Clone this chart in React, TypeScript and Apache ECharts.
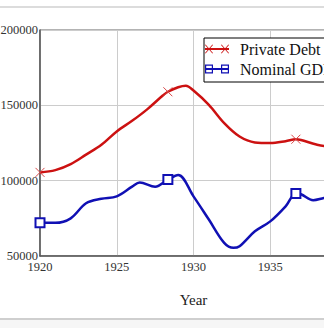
import React, { useEffect, useRef } from "react";
import * as echarts from "echarts";

const debtYears = [1920, 1921, 1922, 1923, 1924, 1925, 1926, 1927, 1928, 1928.33, 1929, 1929.5, 1930, 1931, 1932, 1933, 1934, 1935, 1936, 1936.67, 1937, 1938, 1939, 1940];
const debtValues = [105500, 107000, 111000, 117300, 123800, 132700, 139700, 147500, 156500, 159000, 162000, 163000, 159800, 150300, 138200, 129300, 125400, 125000, 126200, 127500, 127000, 124000, 122500, 123000];
const debtMarkers = [1920, 1928.33, 1936.67];

const gdpYears = [1920, 1921, 1922, 1923, 1924, 1925, 1926, 1926.5, 1927.5, 1928.33, 1929, 1930, 1931, 1932, 1932.6, 1933, 1934, 1935, 1936, 1936.67, 1937, 1937.8, 1938.5, 1939.5];
const gdpValues = [72000, 72000, 75000, 85000, 88000, 89600, 96000, 98800, 96000, 100700, 103800, 89600, 74200, 58700, 55400, 56500, 66400, 73000, 83000, 91500, 91000, 87000, 88500, 90000];
const gdpMarkers = [1920, 1928.33, 1936.67];

const seriesNames = ["Private Debt", "Nominal GDP"];
const xTicks = { min: 1920, max: 1940, step: 5 };
const yTicks = { min: 50000, max: 200000, step: 50000 };

const RED = "#cc1111";
const BLUE = "#1010b4";

const redIcon =
  "path://M0,3.5H24V5.5H0Z" +
  "M0.6,0L8,8.4L7.4,9L0,0.6Z M7.4,0L8,0.6L0.6,9L0,8.4Z" +
  "M16.6,0L24,8.4L23.4,9L16,0.6Z M23.4,0L24,0.6L16.6,9L16,8.4Z";
const blueIcon =
  "path://M0,3.5H24V5.5H0Z" +
  "M0,0H8V9H0Z M1.2,1.2V7.8H6.8V1.2Z" +
  "M16,0H24V9H16Z M17.2,1.2V7.8H22.8V1.2Z";
const xMarker = "path://M0,0L10,10M10,0L0,10";

function build(years: number[], values: number[], markers: number[], sym: string) {
  return years.map((y, i) => ({
    value: [y, values[i]],
    symbol: markers.includes(y) ? sym : "none",
  }));
}

export default function App() {
  const ref = useRef<HTMLDivElement>(null);
  useEffect(() => {
    document.body.style.margin = "0";
    const chart = echarts.init(ref.current!, undefined, { renderer: "svg" });
    const font = "Liberation Serif";
    chart.setOption({
      animation: false,
      backgroundColor: "#ffffff",
      textStyle: { fontFamily: font },
      grid: {
        left: 40,
        top: 30,
        width: 307,
        height: 226,
        show: true,
        borderColor: "#666",
        borderWidth: 1,
        containLabel: false,
        outerBoundsMode: "none",
      },
      graphic: [
        { type: "line", shape: { x1: 0, y1: 7, x2: 324, y2: 7 }, style: { stroke: "#dcdcdc", lineWidth: 2 } },
        { type: "line", shape: { x1: 0, y1: 319, x2: 324, y2: 319 }, style: { stroke: "#cfcfcf", lineWidth: 2 } },
        { type: "rect", shape: { x: 0, y: 320, width: 324, height: 8 }, style: { fill: "#f6f6f6" } },
      ],
      legend: {
        left: 204,
        top: 38,
        orient: "vertical",
        data: [
          { name: seriesNames[0], icon: redIcon },
          { name: seriesNames[1], icon: blueIcon },
        ],
        itemWidth: 24,
        itemHeight: 9,
        itemGap: 4,
        padding: [3, 6, 5, 1],
        borderColor: "#000",
        borderWidth: 1,
        backgroundColor: "#fff",
        itemStyle: { borderWidth: 0 },
        textStyle: { fontFamily: font, fontSize: 16, color: "#111", padding: [0, 0, 0, 6] },
      },
      xAxis: {
        type: "value",
        min: xTicks.min,
        max: xTicks.max,
        interval: xTicks.step,
        name: "Year",
        nameLocation: "middle",
        nameGap: 36,
        nameTextStyle: { fontFamily: font, fontSize: 15, color: "#222" },
        axisLine: { show: true, lineStyle: { color: "#555", width: 1.5 } },
        axisTick: { show: false },
        splitLine: { show: true, lineStyle: { color: "#cccccc", width: 1 } },
        axisLabel: { fontFamily: font, fontSize: 12.5, color: "#333", margin: 4, showMaxLabel: false, formatter: (v: number) => String(v) },
      },
      yAxis: {
        type: "value",
        min: yTicks.min,
        max: yTicks.max,
        interval: yTicks.step,
        axisLine: { show: true, lineStyle: { color: "#555", width: 1.5 } },
        axisTick: { show: false },
        splitLine: { show: true, lineStyle: { color: "#cccccc", width: 1 } },
        axisLabel: { fontFamily: font, fontSize: 12.5, color: "#333", margin: 2, formatter: (v: number) => String(v) },
      },
      series: [
        {
          name: seriesNames[0],
          type: "line",
          smooth: 0.35,
          symbol: xMarker,
          symbolSize: 9,
          showAllSymbol: true,
          data: build(debtYears, debtValues, debtMarkers, xMarker),
          lineStyle: { color: RED, width: 2.5 },
          itemStyle: { color: RED, borderColor: "#d84a4a", borderWidth: 1 },
        },
        {
          name: seriesNames[1],
          type: "line",
          smooth: 0.35,
          symbol: "emptyRect",
          symbolSize: 9,
          showAllSymbol: true,
          data: build(gdpYears, gdpValues, gdpMarkers, "emptyRect"),
          lineStyle: { color: BLUE, width: 2.5 },
          itemStyle: { color: BLUE, borderColor: "#3a3ad0", borderWidth: 1 },
        },
      ],
    });
    return () => chart.dispose();
  }, []);
  return <div ref={ref} style={{ width: 324, height: 328 }} />;
}
